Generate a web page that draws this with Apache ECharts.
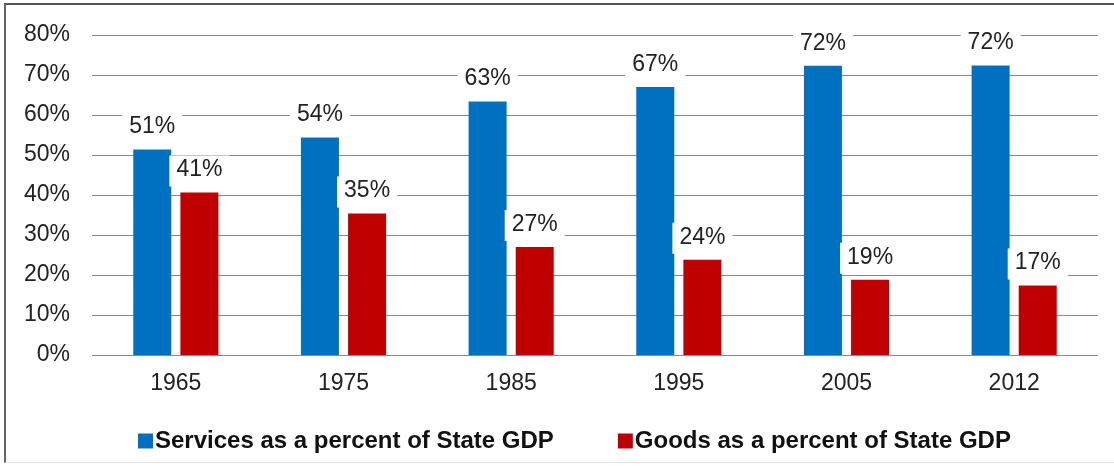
<!DOCTYPE html>
<html><head><meta charset="utf-8">
<script src="https://cdn.jsdelivr.net/npm/echarts@6/dist/echarts.min.js"></script>
<style>
html,body{margin:0;padding:0;background:#fff;}
#frame{position:absolute;left:4px;top:3px;width:1120px;height:460px;border-top:2px solid #555;border-left:2px solid #666;border-bottom:1px solid #e2e2e2;box-sizing:border-box;}
#c{position:absolute;left:0;top:0;width:1114px;height:472px;}
</style></head>
<body>
<div id="frame"></div>
<div id="c"></div>
<script>
const years = ['1965','1975','1985','1995','2005','2012'];
const services = [51.4, 54.4, 63.4, 67.0, 72.3, 72.4];
const goods = [40.6, 35.4, 27.0, 23.8, 18.8, 17.4];
const seriesNames = ['Services as a percent of State GDP', 'Goods as a percent of State GDP'];
const yTicks = [0, 10, 20, 30, 40, 50, 60, 70, 80];

const FONT = 'Liberation Sans, Arial, sans-serif';
const chart = echarts.init(document.getElementById('c'), null, {renderer: 'canvas'});
const labelStyle = {
  show: true, position: 'top', distance: 6,
  formatter: p => Math.round(p.value) + '%',
  fontFamily: FONT, fontSize: 23, color: '#222',
  backgroundColor: '#fff', padding: [3, 7, 5, 7]
};
chart.setOption({
  animation: false,
  grid: {left: 92, right: 16, top: 35, bottom: 117},
  legend: {
    top: 424, left: 133, itemWidth: 15, itemHeight: 15, itemGap: 64,
    icon: 'rect',
    textStyle: {fontFamily: FONT, fontSize: 24, fontWeight: 'bold', color: '#111', padding: [0, 0, 0, -3]},
    data: seriesNames
  },
  xAxis: {
    type: 'category', data: years,
    axisLine: {show: false}, axisTick: {show: false},
    axisLabel: {fontFamily: FONT, fontSize: 23, color: '#222', margin: 17}
  },
  yAxis: {
    type: 'value', min: yTicks[0], max: yTicks[yTicks.length - 1], interval: 10,
    axisLine: {show: false}, axisTick: {show: false},
    splitLine: {lineStyle: {color: '#8a8a8a', width: 1}},
    axisLabel: {formatter: v => v + '%', fontFamily: FONT, fontSize: 23, color: '#222', margin: 22}
  },
  series: [
    {name: seriesNames[0], type: 'bar', data: services, barWidth: 38, barGap: '24%', itemStyle: {color: '#0070C0'}, label: labelStyle, z: 3},
    {name: seriesNames[1], type: 'bar', data: goods, barWidth: 38, itemStyle: {color: '#C00000'}, label: labelStyle, z: 3}
  ]
});
</script>
</body></html>
